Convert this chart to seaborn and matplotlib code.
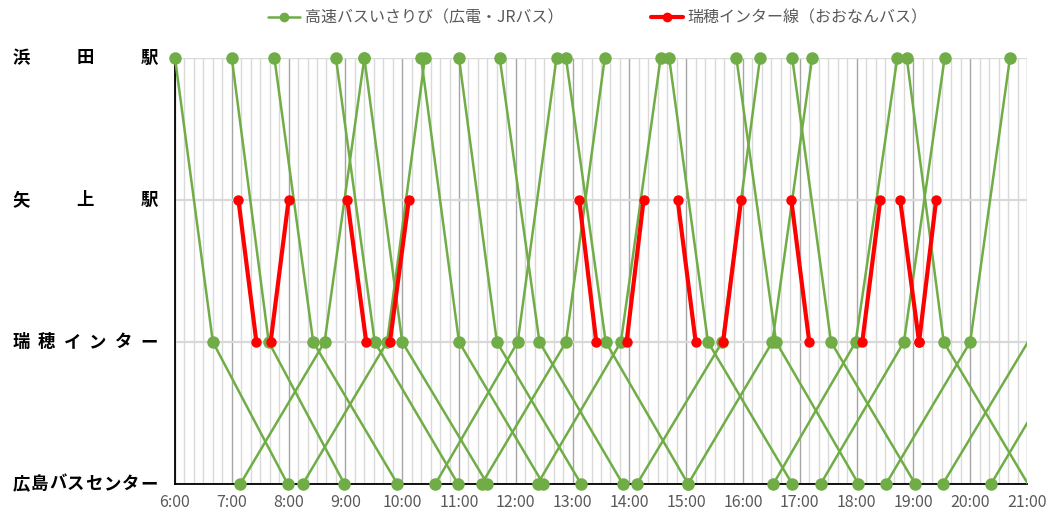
import numpy as np
import pandas as pd
import matplotlib
matplotlib.use("Agg")
import matplotlib.pyplot as plt
import matplotlib.transforms as mtransforms
from matplotlib.patches import Rectangle
from matplotlib.lines import Line2D
import seaborn as sns

# Stations (top to bottom) and their positions on the diagram
stations = ["浜田駅", "矢上駅", "瑞穂インター", "広島バスセンター"]
station_pos = [3, 2, 1, 0]

# 高速バスいさりび: 浜田駅 → 瑞穂インター → 広島バスセンター
isaribi_down = [
    ["6:00", "6:40", "7:59"],
    ["7:00", "7:39", "8:59"],
    ["7:45", "8:26", "9:55"],
    ["8:50", "9:31", "10:59"],
    ["9:20", "10:00", "11:30"],
    ["10:20", "11:00", "12:29"],
    ["11:00", "11:40", "13:09"],
    ["11:43", "12:25", "13:53"],
    ["12:53", "13:35", "15:02"],
    ["14:42", "15:23", "16:52"],
    ["15:53", "16:35", "18:02"],
    ["16:52", "17:33", "19:02"],
    ["18:53", "19:32", "21:01"],
]
# 高速バスいさりび: 広島バスセンター → 瑞穂インター → 浜田駅
isaribi_up = [
    ["7:09", "8:38", "9:20"],
    ["8:15", "9:44", "10:24"],
    ["10:35", "12:02", "12:43"],
    ["11:24", "12:53", "13:34"],
    ["12:23", "13:51", "14:33"],
    ["14:08", "15:38", "16:18"],
    ["15:02", "16:31", "17:13"],
    ["16:32", "17:59", "18:43"],
    ["17:22", "18:50", "19:33"],
    ["18:31", "20:00", "20:42"],
    ["19:31", "21:01", "21:42"],
    ["20:22", "21:51", "22:31"],
]
# 瑞穂インター線: 矢上駅 → 瑞穂インター
mizuho_down = [
    ["7:07", "7:26"],
    ["9:02", "9:22"],
    ["13:07", "13:25"],
    ["14:51", "15:10"],
    ["16:51", "17:10"],
    ["18:46", "19:06"],
]
# 瑞穂インター線: 瑞穂インター → 矢上駅
mizuho_up = [
    ["7:41", "8:00"],
    ["9:47", "10:07"],
    ["13:57", "14:15"],
    ["15:39", "15:58"],
    ["18:06", "18:25"],
    ["19:06", "19:24"],
]

x_tick_labels = [f"{h}:00" for h in range(6, 22)]
legend_labels = ["高速バスいさりび（広電・JRバス）", "瑞穂インター線（おおなんバス）"]

GREEN = "#70AD47"
RED = "#FF0000"
X_MIN, X_MAX = 6, 21


def to_hours(s):
    h, m = s.split(":")
    return int(h) + int(m) / 60.0


def build_frame(trips, stops):
    rows = []
    for i, trip in enumerate(trips):
        for t, p in zip(trip, stops):
            rows.append({"trip": i, "time": to_hours(t), "pos": p})
    return pd.DataFrame(rows)


n_down = len(isaribi_down)
green_df = pd.concat([
    build_frame(isaribi_down, [3, 1, 0]),
    build_frame(isaribi_up, [0, 1, 3]).assign(trip=lambda d: d["trip"] + n_down),
], ignore_index=True)

n_rdown = len(mizuho_down)
red_df = pd.concat([
    build_frame(mizuho_down, [2, 1]),
    build_frame(mizuho_up, [1, 2]).assign(trip=lambda d: d["trip"] + n_rdown),
], ignore_index=True)

sns.set_theme(style="white")
plt.rcParams["font.family"] = ["Noto Sans CJK JP", "DejaVu Sans"]

W, H = 1047, 515
fig = plt.figure(figsize=(W / 100, H / 100), dpi=100)
ax_l, ax_r, ax_t, ax_b = 175, 1027, 58, 484
ax = fig.add_axes([ax_l / W, 1 - ax_b / H, (ax_r - ax_l) / W, (ax_b - ax_t) / H])

ax.set_xlim(X_MIN, X_MAX)
ax.set_ylim(0, 3)

# time grid: hours and 10-minute steps
ax.set_xticks(np.arange(6, 22, 1))
ax.set_xticklabels(x_tick_labels)
ax.set_xticks(np.arange(6, 21.001, 1 / 6), minor=True)
ax.set_yticks(station_pos)
ax.set_yticklabels([""] * len(station_pos))
ax.grid(which="minor", axis="x", color="#d9d9d9", lw=1.0)
ax.grid(which="major", axis="x", color="#a6a6a6", lw=1.0)
ax.grid(which="major", axis="y", color="#d9d9d9", lw=1.6)
ax.tick_params(axis="both", which="both", length=0)
ax.tick_params(axis="x", colors="#595959", labelsize=11.5, pad=7)

for side in ["top", "right"]:
    ax.spines[side].set_visible(False)
for side in ["left", "bottom"]:
    ax.spines[side].set_color("black")
    ax.spines[side].set_linewidth(1.3)
    ax.spines[side].set_zorder(1.5)

sns.lineplot(data=green_df, x="time", y="pos", units="trip", estimator=None,
             sort=False, color=GREEN, lw=1.8, marker="o", markersize=9,
             markeredgewidth=0, ax=ax, legend=False)
sns.lineplot(data=red_df, x="time", y="pos", units="trip", estimator=None,
             sort=False, color=RED, lw=3.0, marker="o", markersize=7.5,
             markeredgewidth=0, ax=ax, legend=False)
ax.set_xlabel("")
ax.set_ylabel("")

# clip at 21:00 on the right, keep whole markers on the other edges,
# and only mark stops that fall inside the time range
clip_rect = Rectangle((-0.03, -0.05), 1.03, 1.1, transform=ax.transAxes,
                      facecolor="none", edgecolor="none")
for ln in ax.lines:
    ln.set_clip_path(clip_rect)
    xs = np.asarray(ln.get_xdata(), dtype=float)
    ln.set_markevery([i for i, v in enumerate(xs) if X_MIN <= v <= X_MAX])

# station names, spread evenly across the label column
trans = mtransforms.blended_transform_factory(ax.transAxes, ax.transData)
x0_px, x1_px = 21, 149
for name, pos in zip(stations, station_pos):
    n = len(name)
    for i, ch in enumerate(name):
        px = x0_px + i * (x1_px - x0_px) / (n - 1)
        ax.text((px - ax_l) / (ax_r - ax_l), pos, ch, transform=trans,
                ha="center", va="center", fontsize=12.5, fontweight="bold",
                color="black", clip_on=False)

handles = [
    Line2D([], [], color=GREEN, lw=1.8, marker="o", markersize=7, markeredgewidth=0),
    Line2D([], [], color=RED, lw=3.0, marker="o", markersize=7, markeredgewidth=0),
]
fig.legend(handles, legend_labels, loc="center", bbox_to_anchor=(0.571, 1 - 18 / H),
           ncol=2, frameon=False, fontsize=11.5, handlelength=2.0,
           handletextpad=0.3, columnspacing=5.5, labelcolor="#595959")

fig.savefig("out.png", dpi=100)
